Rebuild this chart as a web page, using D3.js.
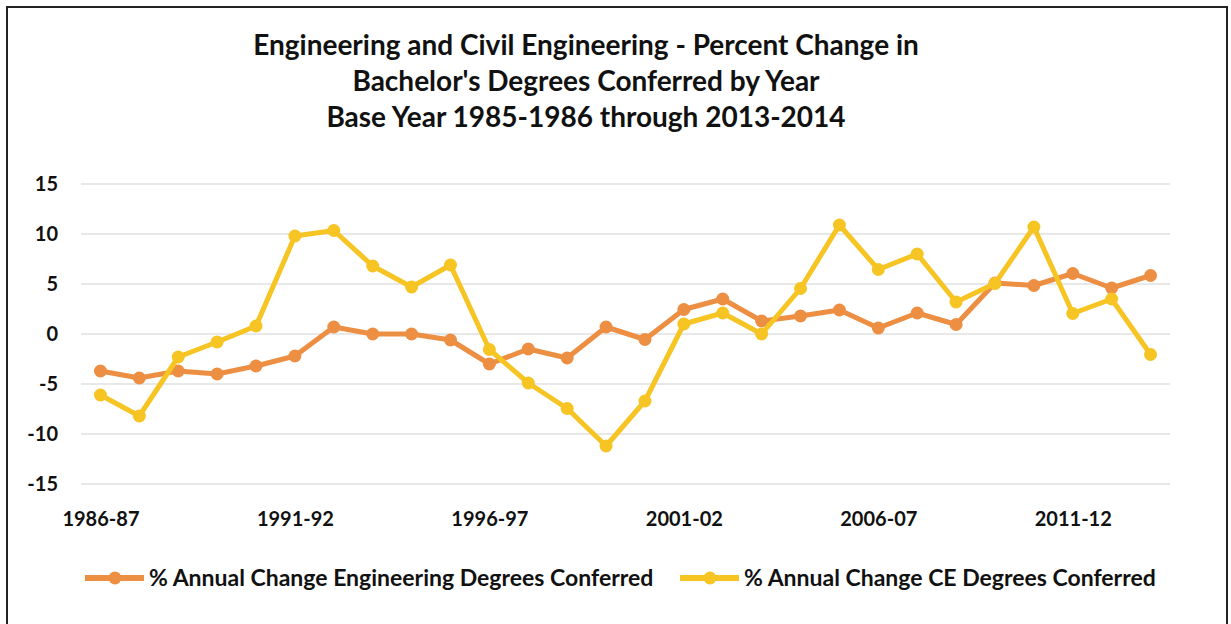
<!DOCTYPE html>
<html>
<head>
<meta charset="utf-8">
<script src="https://cdn.jsdelivr.net/npm/d3@7"></script>
<style>
  body { margin: 0; background: #fff; }
  text { font-family: Lato, "Open Sans", sans-serif; font-weight: bold; fill: #111; }
</style>
</head>
<body>
<div id="chart"></div>
<script>
const years = ["1986-87", "1987-88", "1988-89", "1989-90", "1990-91", "1991-92", "1992-93",
    "1993-94", "1994-95", "1995-96", "1996-97", "1997-98", "1998-99", "1999-00", "2000-01",
    "2001-02", "2002-03", "2003-04", "2004-05", "2005-06", "2006-07", "2007-08", "2008-09",
    "2009-10", "2010-11", "2011-12", "2012-13", "2013-14"];

const engChange = [-3.7, -4.4, -3.7, -4.0, -3.2, -2.2, 0.7, 0.0, 0.0, -0.6, -3.0, -1.5, -2.4, 0.7,
    -0.55, 2.45, 3.5, 1.3, 1.8, 2.4, 0.6, 2.1, 0.95, 5.1, 4.85, 6.05, 4.6, 5.85];

const ceChange = [-6.1, -8.2, -2.3, -0.8, 0.8, 9.8, 10.35, 6.8, 4.7, 6.9, -1.55, -4.9, -7.45, -11.2,
    -6.7, 1.0, 2.1, 0.0, 4.55, 10.9, 6.45, 8.0, 3.2, 5.05, 10.7, 2.05, 3.5, -2.05];

const yTicks = [-15, -10, -5, 0, 5, 10, 15];
const xTickLabels = ["1986-87", "1991-92", "1996-97", "2001-02", "2006-07", "2011-12"];

const titleLines = ["Engineering and Civil Engineering - Percent Change in",
    "Bachelor's Degrees Conferred by Year",
    "Base Year 1985-1986 through 2013-2014"];

const series = [
    { name: "% Annual Change Engineering Degrees Conferred", values: engChange, color: "#ED8F43" },
    { name: "% Annual Change CE Degrees Conferred", values: ceChange, color: "#F6C423" }
];

var width = 1231, height = 624;
var margin = { top: 184, right: 61, bottom: 140, left: 81 };

var svg = d3.select("#chart").append("svg")
    .attr("width", width)
    .attr("height", height);

// frame
svg.append("path")
    .attr("fill", "none")
    .attr("stroke", "#222")
    .attr("stroke-width", 2)
    .attr("d", "M7," + height + "V7H1227V" + height);

var xScale = d3.scalePoint()
    .domain(years)
    .range([margin.left, width - margin.right])
    .padding(0.5);

var yScale = d3.scaleLinear()
    .domain([-15, 15])
    .range([height - margin.bottom, margin.top]);

// gridlines
svg.append("g")
    .selectAll("line")
    .data(yTicks)
    .enter().append("line")
    .attr("x1", margin.left)
    .attr("x2", width - margin.right)
    .attr("y1", function (d) { return yScale(d); })
    .attr("y2", function (d) { return yScale(d); })
    .attr("stroke", "#e0e0e0")
    .attr("stroke-width", 1.5);

// y axis labels
var yAxis = svg.append("g")
    .attr("transform", "translate(" + (margin.left - 23) + ",0)")
    .call(d3.axisLeft(yScale).tickValues(yTicks).tickFormat(function (d) { return String(d); })
        .tickSize(0).tickPadding(0));
yAxis.select(".domain").remove();
yAxis.selectAll("text")
    .style("font-size", "20px")
    .style("font-family", "Lato, sans-serif")
    .attr("fill", "#111");

// x axis labels
var xAxis = svg.append("g")
    .attr("transform", "translate(0," + (height - margin.bottom + 28) + ")")
    .call(d3.axisBottom(xScale).tickValues(xTickLabels).tickSize(0).tickPadding(0));
xAxis.select(".domain").remove();
xAxis.selectAll("text")
    .style("font-size", "20px")
    .style("font-family", "Lato, sans-serif")
    .attr("fill", "#111");

// lines and markers
var lineGen = d3.line()
    .x(function (d, i) { return xScale(years[i]); })
    .y(function (d) { return yScale(d); });

series.forEach(function (s) {
    svg.append("path")
        .attr("fill", "none")
        .attr("stroke", s.color)
        .attr("stroke-width", 5)
        .attr("stroke-linejoin", "round")
        .attr("d", lineGen(s.values));

    svg.append("g")
        .selectAll("circle")
        .data(s.values)
        .enter().append("circle")
        .attr("cx", function (d, i) { return xScale(years[i]); })
        .attr("cy", function (d) { return yScale(d); })
        .attr("r", 6.5)
        .attr("fill", s.color);
});

// title
svg.append("text")
    .attr("text-anchor", "middle")
    .attr("x", 586)
    .attr("y", 55)
    .style("font-size", "28px")
    .selectAll("tspan")
    .data(titleLines)
    .enter().append("tspan")
    .attr("x", 586)
    .attr("dy", function (d, i) { return i === 0 ? 0 : 36; })
    .text(function (d) { return d; });

// legend
var legendX = [85, 680];
var legend = svg.selectAll("g.legend")
    .data(series)
    .enter().append("g")
    .attr("class", "legend")
    .attr("transform", function (d, i) { return "translate(" + legendX[i] + ",578)"; });

legend.append("line")
    .attr("x1", 0).attr("x2", 59)
    .attr("stroke", function (d) { return d.color; })
    .attr("stroke-width", 6);

legend.append("circle")
    .attr("cx", 30)
    .attr("r", 6.5)
    .attr("fill", function (d) { return d.color; });

legend.append("text")
    .attr("x", 64)
    .attr("dy", "0.35em")
    .style("font-size", "23px")
    .text(function (d) { return d.name; });
</script>
</body>
</html>
